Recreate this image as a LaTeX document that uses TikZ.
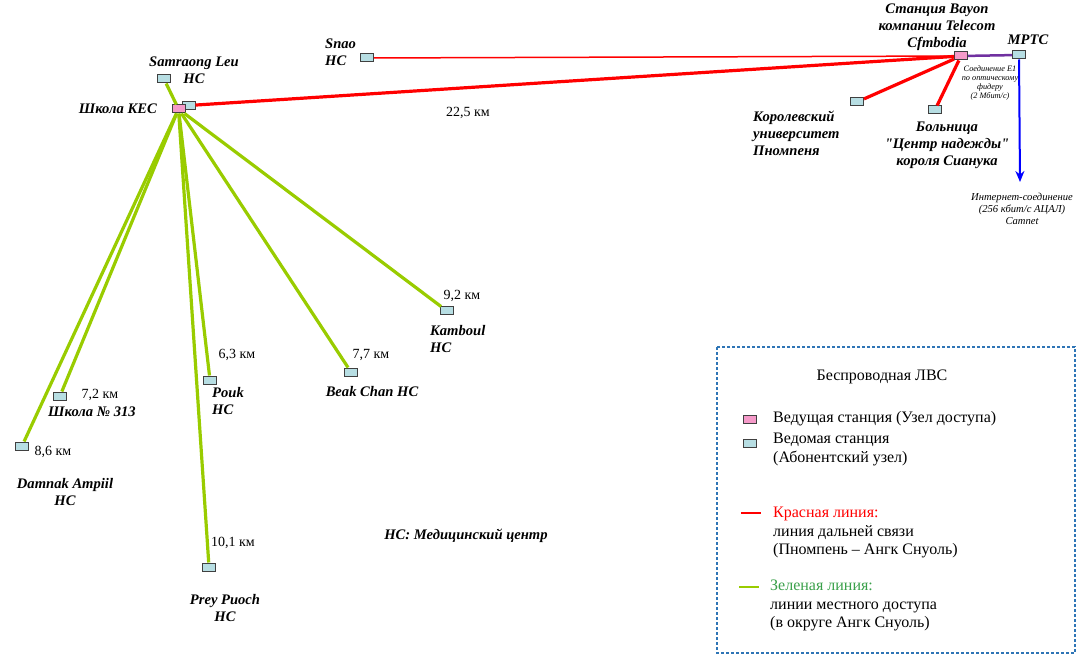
\documentclass[tikz,border=0pt]{standalone}
\usepackage{fontspec}
\setmainfont{Liberation Serif}[Ligatures=TeXOff]
\usepackage{xcolor}
\usetikzlibrary{arrows, arrows.meta, positioning}
\definecolor{stcyan}{HTML}{B7DEE3}
\definecolor{stpink}{HTML}{F59AC9}
\definecolor{lgreen}{HTML}{99CC00}
\definecolor{lpurple}{HTML}{7030A0}
\definecolor{legblue}{HTML}{2E75B6}
\definecolor{txtgreen}{HTML}{3AA04A}
\tikzstyle{slave} = [draw=black!75, line width=1pt, fill=stcyan, minimum width=13pt, minimum height=8pt, inner sep=0pt]
\tikzstyle{master} = [slave, fill=stpink]
\tikzstyle{lbl} = [font=\fontsize{14.6}{17}\selectfont\bfseries\itshape, align=center, inner sep=0pt]
\tikzstyle{km} = [font=\fontsize{14}{16}\selectfont, inner sep=0pt]
\tikzstyle{small} = [font=\fontsize{8.3}{9}\selectfont\itshape, align=center, inner sep=0pt]
\tikzstyle{legtext} = [font=\fontsize{16}{18.5}\selectfont, align=left, anchor=west, inner sep=0pt]
\tikzstyle{redline} = [red, line width=3.2pt]
\tikzstyle{greenline} = [lgreen, line width=3.2pt]
\tikzstyle{arrow} = [blue, line width=2pt, -{Stealth[length=11pt, width=9pt]}]

\begin{document}
\begin{tikzpicture}[x=1pt, y=-1pt]
    \useasboundingbox (0,0) rectangle (1077,655);

    % Stations
    \node[slave] (kesb) at (188.5,105.5) {};
    \node[master] (kes) at (178.5,109) {};
    \node[slave] (samraong) at (164,79) {};
    \node[slave] (snao) at (367,58) {};
    \node[master] (bayon) at (961,56) {};
    \node[slave] (mptc) at (1019,55) {};
    \node[slave] (royal) at (857,102) {};
    \node[slave] (hospital) at (935,110) {};
    \node[slave] (kamboul) at (447,311) {};
    \node[slave] (beak) at (351,372) {};
    \node[slave] (pouk) at (210,380) {};
    \node[slave] (prey) at (209,567) {};
    \node[slave] (school) at (60,396) {};
    \node[slave] (damnak) at (22,446) {};
    \coordinate (inet) at (1020,182);

    % Long distance links
    \draw[red, line width=1.5pt] (snao) -- (bayon);
    \draw[redline] (kesb) -- (bayon);
    \draw[redline] (bayon) -- (royal);
    \draw[redline] (bayon) -- (hospital);
    \draw[lpurple, line width=2.5pt] (bayon) -- (mptc);
    \draw[arrow] (mptc) -- (inet);

    % Local access links
    \draw[greenline] (kes) -- (samraong);
    \draw[greenline] (kes) -- (kamboul);
    \draw[greenline] (kes) -- (beak);
    \draw[greenline] (kes) -- (pouk);
    \draw[greenline] (kes) -- (prey);
    \draw[greenline] (kes) -- (school);
    \draw[greenline] (kes) -- (damnak);

    % Station labels
    \node[lbl, anchor=east] (kesl) at (157,109) {Школа KEC};
    \node[lbl] (samraongl) at (194,70) {Samraong Leu\\HC};
    \node[lbl, align=left, anchor=west] (snaol) at (325,52) {Snao\\HC};
    \node[lbl] (bayonl) at (937,27) {Станция Bayon\\компании Telecom\\Cfmbodia};
    \node[lbl] (mptcl) at (1028,40) {MPTC};
    \node[lbl, align=left, anchor=west] (royall) at (753,133) {Королевский\\университет\\Пномпеня};
    \node[lbl] (hospitall) at (947,145) {Больница\\"Центр надежды"\\короля Сианука};
    \node[lbl, align=left, anchor=west] (kamboull) at (430,339) {Kamboul\\HC};
    \node[lbl] (beakl) at (372,392) {Beak Chan HC};
    \node[lbl, align=left, anchor=west] (poukl) at (212,401) {Pouk\\HC};
    \node[lbl] (schooll) at (92,412) {Школа № 313};
    \node[lbl] (damnakl) at (65,492) {Damnak Ampiil\\HC};
    \node[lbl] (preyl) at (225,608) {Prey Puoch\\HC};
    \node[lbl] (hcnote) at (466,536) {HC: Медицинский центр};

    % Distances
    \node[km] (d1) at (468,113) {22,5 км};
    \node[km] (d2) at (462,296) {9,2 км};
    \node[km] (d3) at (371,355) {7,7 км};
    \node[km] (d4) at (237,355) {6,3 км};
    \node[km] (d5) at (100,395) {7,2 км};
    \node[km] (d6) at (53,452) {8,6 км};
    \node[km] (d7) at (233,543) {10,1 км};

    % Link notes
    \node[small] (e1) at (990,83.5) {Соединение E1\\по оптическому\\фидеру\\(2 Мбит/с)};
    \node[small, font=\fontsize{10.6}{12}\selectfont\itshape] (inetl) at (1022,209) {Интернет-соединение\\(256 кбит/с АЦАЛ)\\Camnet};

    % Legend
    \draw[legblue, line width=1.5pt, dash pattern=on 3pt off 2pt] (717,347) rectangle (1075,653);
    \node[km, font=\fontsize{16}{18}\selectfont] (legtitle) at (882,377) {Беспроводная ЛВС};
    \node[master] (legmaster) at (750,419) {};
    \node[legtext] (legmastert) at (773,419) {Ведущая станция (Узел доступа)};
    \node[slave] (legslave) at (750,443) {};
    \node[legtext] (legslavet) at (773,449.5) {Ведомая станция\\(Абонентский узел)};
    \draw[red, line width=1.5pt] (741,513) -- (761,513);
    \node[legtext] (legred) at (773,532.5) {\textcolor{red}{Красная линия:}\\линия дальней связи\\(Пномпень – Ангк Снуоль)};
    \draw[lgreen, line width=1.5pt] (739,587) -- (759,587);
    \node[legtext] (leggreen) at (770,605.5) {\textcolor{txtgreen}{Зеленая линия:}\\линии местного доступа\\(в округе Ангк Снуоль)};
\end{tikzpicture}
\end{document}
